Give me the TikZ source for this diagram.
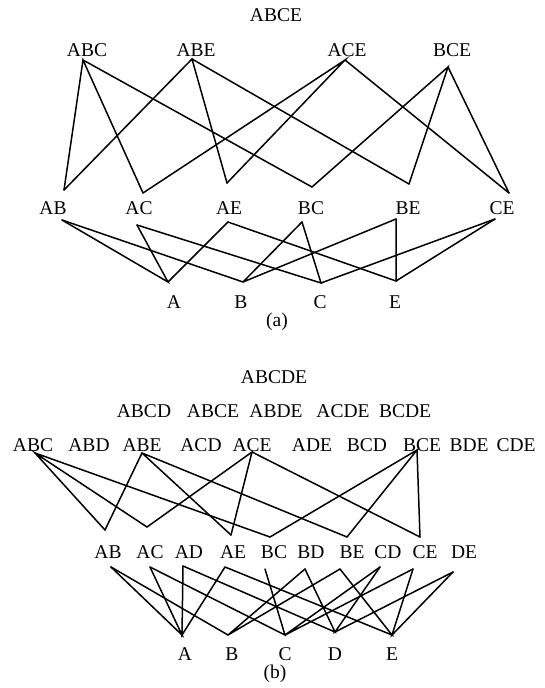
\documentclass[tikz,border=0pt]{standalone}
\usepackage{fontspec}
\setmainfont{Liberation Serif}
\begin{document}
\begin{tikzpicture}[x=1pt,y=-1pt,line cap=round,
    lbl/.style={inner sep=0pt,font=\fontsize{19.5}{22}\selectfont},
    edge/.style={line width=1.5pt}]
  \useasboundingbox (0,0) rectangle (544,688);
  % (a)
  \node[lbl] (aABCE) at (276,15) {ABCE};
  \node[lbl] (aABC) at (87,50) {ABC};  \node[lbl] (aABE) at (196,50) {ABE};
  \node[lbl] (aACE) at (347,50) {ACE}; \node[lbl] (aBCE) at (452,50) {BCE};
  \node[lbl] (aAB) at (53,208) {AB};  \node[lbl] (aAC) at (139,208) {AC};
  \node[lbl] (aAE) at (229,208) {AE}; \node[lbl] (aBC) at (311,208) {BC};
  \node[lbl] (aBE) at (408,208) {BE}; \node[lbl] (aCE) at (502,208) {CE};
  \node[lbl] (aA) at (174,302) {A}; \node[lbl] (aB) at (241,302) {B};
  \node[lbl] (aC) at (320,302) {C}; \node[lbl] (aE) at (395,302) {E};
  \node[lbl] (acapa) at (277,322) {(a)};
  \coordinate (aABCv) at (83,60);  \coordinate (aABEv) at (192,59);
  \coordinate (aACEv) at (345,60); \coordinate (aBCEv) at (448,67);
  \coordinate (aABu) at (64,190);  \coordinate (aACu) at (143,193);
  \coordinate (aAEu) at (227,183); \coordinate (aBCu) at (312,187);
  \coordinate (aBEu) at (409,184); \coordinate (aCEu) at (509,193);
  \coordinate (aABd) at (62,220);  \coordinate (aACd) at (137,225);
  \coordinate (aAEd) at (228,222); \coordinate (aBCd) at (302,222);
  \coordinate (aBEd) at (396,219); \coordinate (aCEd) at (495,219);
  \coordinate (aAv) at (168,282); \coordinate (aBv) at (243,282);
  \coordinate (aCv) at (321,283); \coordinate (aEv) at (396,281);
  \draw[edge] (aABu) -- (aABCv) -- (aACu) (aABCv) -- (aBCu);
  \draw[edge] (aABu) -- (aABEv) -- (aAEu) (aABEv) -- (aBEu);
  \draw[edge] (aACu) -- (aACEv) -- (aAEu) (aACEv) -- (aCEu);
  \draw[edge] (aBCu) -- (aBCEv) -- (aBEu) (aBCEv) -- (aCEu);
  \draw[edge] (aABd) -- (aAv) -- (aACd) (aAEd) -- (aAv);
  \draw[edge] (aABd) -- (aBv) -- (aBCd) (aBEd) -- (aBv);
  \draw[edge] (aACd) -- (aCv) -- (aBCd) (aCEd) -- (aCv);
  \draw[edge] (aAEd) -- (aEv) -- (aBEd) (aCEd) -- (aEv);
  % (b)
  \node[lbl] (bABCDE) at (274,377) {ABCDE};
  \node[lbl] (bABCD) at (144,411) {ABCD}; \node[lbl] (bABCE) at (213,411) {ABCE};
  \node[lbl] (bABDE) at (276,411) {ABDE}; \node[lbl] (bACDE) at (343,411) {ACDE};
  \node[lbl] (bBCDE) at (405,411) {BCDE};
  \node[lbl] (bABC) at (33,445) {ABC};  \node[lbl] (bABD) at (89,445) {ABD};
  \node[lbl] (bABE) at (142,445) {ABE}; \node[lbl] (bACD) at (201,445) {ACD};
  \node[lbl] (bACE) at (252,445) {ACE}; \node[lbl] (bADE) at (312,445) {ADE};
  \node[lbl] (bBCD) at (367,445) {BCD}; \node[lbl] (bBCE) at (422,445) {BCE};
  \node[lbl] (bBDE) at (469,445) {BDE}; \node[lbl] (bCDE) at (516,445) {CDE};
  \node[lbl] (bAB) at (108,552) {AB}; \node[lbl] (bAC) at (150,552) {AC};
  \node[lbl] (bAD) at (189,552) {AD}; \node[lbl] (bAE) at (233,552) {AE};
  \node[lbl] (bBC) at (274,552) {BC}; \node[lbl] (bBD) at (311,552) {BD};
  \node[lbl] (bBE) at (352,552) {BE}; \node[lbl] (bCD) at (388,552) {CD};
  \node[lbl] (bCE) at (425,552) {CE}; \node[lbl] (bDE) at (464,552) {DE};
  \node[lbl] (bA) at (185,654) {A}; \node[lbl] (bB) at (232,654) {B};
  \node[lbl] (bC) at (285,654) {C}; \node[lbl] (bD) at (335,654) {D};
  \node[lbl] (bE) at (392,654) {E};
  \node[lbl] (bcapb) at (275,674) {(b)};
  \coordinate (bABCv) at (35,453);  \coordinate (bABEv) at (142,453);
  \coordinate (bACEv) at (252,452); \coordinate (bBCEv) at (417,450);
  \coordinate (bABu) at (105,530); \coordinate (bACu) at (147,527);
  \coordinate (bAEu) at (231,535); \coordinate (bBCu) at (270,537);
  \coordinate (bBEu) at (347,537); \coordinate (bCEu) at (420,537);
  \coordinate (bABd) at (111,567); \coordinate (bACd) at (150,567);
  \coordinate (bADd) at (183,566); \coordinate (bAEd) at (225,567);
  \coordinate (bBCd) at (265,569); \coordinate (bBDd) at (305,569);
  \coordinate (bBEd) at (340,569); \coordinate (bCDd) at (380,567);
  \coordinate (bCEd) at (413,569); \coordinate (bDEd) at (453,572);
  \coordinate (bAv) at (182,635); \coordinate (bBv) at (228,635);
  \coordinate (bCv) at (285,635); \coordinate (bDv) at (335,632);
  \coordinate (bEv) at (392,635);
  \draw[edge] (bABu) -- (bABCv) -- (bACu) (bABCv) -- (bBCu);
  \draw[edge] (bABu) -- (bABEv) -- (bAEu) (bABEv) -- (bBEu);
  \draw[edge] (bACu) -- (bACEv) -- (bAEu) (bACEv) -- (bCEu);
  \draw[edge] (bBCu) -- (bBCEv) -- (bBEu) (bBCEv) -- (bCEu);
  \draw[edge] (bABd) -- (bAv) -- (bACd) (bADd) -- (bAv) -- (bAEd);
  \draw[edge] (bABd) -- (bBv) -- (bBDd) (bBv) -- (bBEd);
  \draw[edge] (bACd) -- (bCv) -- (bBCd) (bCDd) -- (bCv) -- (bCEd);
  \draw[edge] (bADd) -- (bDv) -- (bBDd) (bCDd) -- (bDv) -- (bDEd);
  \draw[edge] (bAEd) -- (bEv) -- (bBEd) (bCEd) -- (bEv) -- (bDEd);
\end{tikzpicture}
\end{document}
